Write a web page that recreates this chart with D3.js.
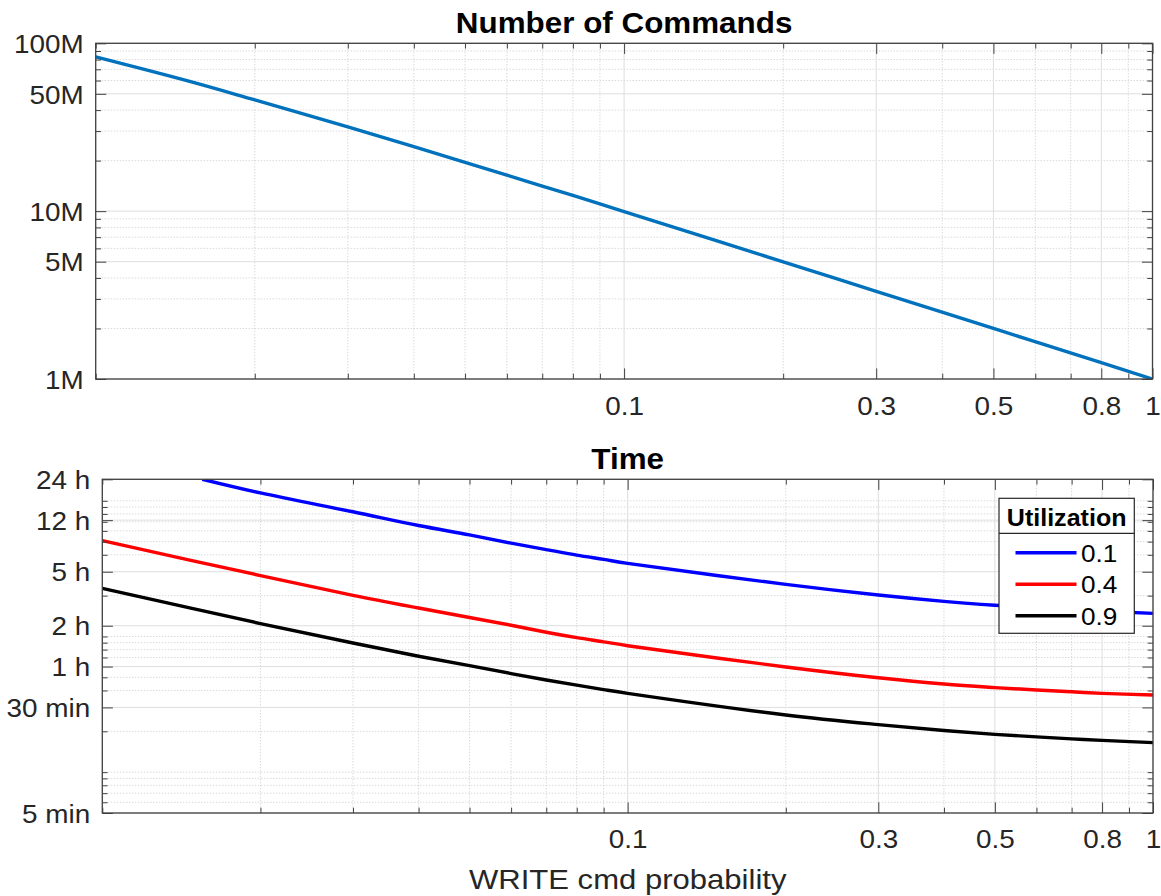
<!DOCTYPE html>
<html><head><meta charset="utf-8">
<script src="https://cdn.jsdelivr.net/npm/d3@7"></script>
<style>
body{margin:0;background:#fff}
svg{display:block}
text{font-family:"Liberation Sans",Arial,Helvetica,sans-serif}
</style>
</head><body>
<svg id="c" width="1161" height="896"></svg>
<script>
// ---------- data ----------
const xTickValues = [0.1, 0.3, 0.5, 0.8, 1];
const xTickLabels = ["0.1", "0.3", "0.5", "0.8", "1"];

const cmdProb  = [0.01, 0.015, 0.02, 0.03, 0.04, 0.05, 0.06, 0.07, 0.08, 0.09, 0.1, 0.2, 0.3, 0.5, 0.8, 1];
const cmdCount = [83e6, 59.5e6, 46e6, 31.8e6, 24.2e6, 19.55e6, 16.4e6, 14.1e6, 12.4e6, 11.05e6, 9.95e6, 4.99e6, 3.33e6, 2e6, 1.25e6, 1e6];
const cmdYTicks  = [1e6, 5e6, 1e7, 5e7, 1e8];
const cmdYLabels = ["1M", "5M", "10M", "50M", "100M"];

const utilLabels = ["0.1", "0.4", "0.9"];
const probU01 = [0.0155, 0.02, 0.03, 0.04, 0.05, 0.06, 0.07, 0.08, 0.09, 0.1, 0.2, 0.3, 0.4, 0.5, 0.6, 0.8, 1];
const timeU01 = [1440, 1142, 830, 657, 560, 487, 437, 398, 370, 346, 242, 202, 181.5, 170, 163, 154, 148];
const probU04 = [0.01, 0.02, 0.03, 0.04, 0.05, 0.06, 0.07, 0.08, 0.09, 0.1, 0.2, 0.3, 0.4, 0.5, 0.6, 0.7, 0.8, 1];
const timeU04 = [508, 281, 201, 162, 138, 121, 107.5, 98, 91.3, 85.5, 59.6, 49.6, 44.6, 42, 40.3, 39.1, 38.1, 37];
const probU09 = [0.01, 0.02, 0.03, 0.04, 0.05, 0.06, 0.07, 0.08, 0.09, 0.1, 0.2, 0.3, 0.4, 0.5, 0.6, 0.7, 0.8, 1];
const timeU09 = [226, 124.5, 89.5, 71.5, 61, 53.3, 47.8, 43.8, 40.6, 38.1, 26.4, 22.4, 20.3, 19.0, 18.2, 17.6, 17.15, 16.5];
const timeYTicks  = [5, 30, 60, 120, 300, 720, 1440];   // minutes
const timeYLabels = ["5 min", "30 min", "1 h", "2 h", "5 h", "12 h", "24 h"];
const seriesColors = ["#0000ff", "#ff0000", "#000000"];

// ---------- drawing ----------
const SX = 1.09;           // horizontal stretch of the original rendering
const TXT = "#262626";
const svg = d3.select("#c");
svg.append("rect").attr("width", 1161).attr("height", 896).attr("fill", "#fff");

function same(a, b) { return Math.abs(Math.log10(a) - Math.log10(b)) < 1e-6; }

function panel(o) {
  const x = d3.scaleLog().domain([0.01, 1]).range([0, o.width]);
  const y = d3.scaleLog().domain(o.yDomain).range([o.height, 0]);
  const g = svg.append("g").attr("transform", `translate(${o.left},${o.top})`);

  const xMinor = x.ticks().filter(v => !xTickValues.some(t => same(t, v)));
  const yMinor = y.ticks().filter(v => !o.yTicks.some(t => same(t, v)));

  // minor grid (dotted)
  const mg = g.append("g").attr("stroke", "#c9c9c9").attr("stroke-width", 1).attr("stroke-dasharray", "1,2");
  mg.selectAll(".vx").data(xMinor).join("line")
    .attr("x1", d => x(d)).attr("x2", d => x(d)).attr("y1", 0).attr("y2", o.height);
  mg.selectAll(".hy").data(yMinor).join("line")
    .attr("y1", d => y(d)).attr("y2", d => y(d)).attr("x1", 0).attr("x2", o.width);
  // major grid (solid)
  const Mg = g.append("g").attr("stroke", "#dedede").attr("stroke-width", 1);
  Mg.selectAll(".vx").data(xTickValues).join("line")
    .attr("x1", d => x(d)).attr("x2", d => x(d)).attr("y1", 0).attr("y2", o.height);
  Mg.selectAll(".hy").data(o.yTicks).join("line")
    .attr("y1", d => y(d)).attr("y2", d => y(d)).attr("x1", 0).attr("x2", o.width);

  // data lines
  const clipId = "clip" + o.id;
  g.append("clipPath").attr("id", clipId).append("rect").attr("width", o.width).attr("height", o.height);
  const line = d3.line().x(d => x(d[0])).y(d => y(d[1])).curve(d3.curveCatmullRom.alpha(0.5));
  const lg = g.append("g").attr("clip-path", `url(#${clipId})`);
  o.series.forEach(s => {
    lg.append("path").datum(d3.zip(s.p, s.v))
      .attr("fill", "none").attr("stroke", s.color).attr("stroke-width", 3.4)
      .attr("stroke-linejoin", "round").attr("d", line);
  });

  // ticks (inward, mirrored)
  const MAJ = 10.6, MIN = 5.3;
  const styleAxis = sel => { sel.select(".domain").remove(); sel.selectAll("line").attr("stroke", "#404040"); };
  g.append("g").attr("transform", `translate(0,${o.height})`)
    .call(d3.axisBottom(x).tickValues(xMinor).tickSize(-MIN).tickFormat("")).call(styleAxis);
  g.append("g")
    .call(d3.axisTop(x).tickValues(xMinor).tickSize(-MIN).tickFormat("")).call(styleAxis);
  g.append("g").call(d3.axisLeft(y).tickValues(yMinor).tickSize(-MIN).tickFormat("")).call(styleAxis);
  g.append("g").attr("transform", `translate(${o.width},0)`)
    .call(d3.axisRight(y).tickValues(yMinor).tickSize(-MIN).tickFormat("")).call(styleAxis);

  g.append("g").call(d3.axisTop(x).tickValues(xTickValues).tickSize(-MAJ).tickFormat("")).call(styleAxis);
  g.append("g").attr("transform", `translate(${o.width},0)`)
    .call(d3.axisRight(y).tickValues(o.yTicks).tickSize(-MAJ).tickFormat("")).call(styleAxis);

  const xb = g.append("g").attr("transform", `translate(0,${o.height})`)
    .call(d3.axisBottom(x).tickValues(xTickValues).tickSize(-MAJ).tickPadding(o.xPad)
      .tickFormat((d, i) => xTickLabels[i]))
    .call(styleAxis);
  xb.selectAll("text").attr("fill", TXT).attr("font-size", 25.6)
    .attr("font-family", '"Liberation Sans",Arial,sans-serif').attr("transform", `scale(${SX},1)`);
  xb.attr("font-family", null).attr("font-size", null);

  const yl = g.append("g")
    .call(d3.axisLeft(y).tickValues(o.yTicks).tickSize(-MAJ).tickPadding(12)
      .tickFormat((d, i) => o.yLabels[i]))
    .call(styleAxis);
  yl.selectAll("text").attr("fill", TXT).attr("font-size", 25.6)
    .attr("font-family", '"Liberation Sans",Arial,sans-serif')
    .attr("x", -12 / SX).attr("dy", "0.36em").attr("transform", `scale(${SX},1)`);
  yl.attr("font-family", null).attr("font-size", null);

  // box
  g.append("rect").attr("width", o.width).attr("height", o.height)
    .attr("fill", "none").attr("stroke", "#404040").attr("stroke-width", 1.3);

  // title
  g.append("text").attr("transform", `translate(${o.width / 2},${o.titleY}) scale(${SX},1)`)
    .attr("text-anchor", "middle").attr("font-weight", "bold").attr("font-size", 28.8)
    .attr("fill", "#000").text(o.title);

  return { g, x, y };
}

panel({
  id: "top", left: 95.7, top: 43.3, width: 1056.8, height: 335.7,
  yDomain: [1e6, 1e8], yTicks: cmdYTicks, yLabels: cmdYLabels,
  title: "Number of Commands", titleY: -10, xPad: 18,
  series: [{ p: cmdProb, v: cmdCount, color: "#0072bd" }]
});

panel({
  id: "bot", left: 102.3, top: 479.3, width: 1050.7, height: 333.7,
  yDomain: [5, 1440], yTicks: timeYTicks, yLabels: timeYLabels,
  title: "Time", titleY: -10, xPad: 17,
  series: [
    { p: probU01, v: timeU01, color: seriesColors[0] },
    { p: probU04, v: timeU04, color: seriesColors[1] },
    { p: probU09, v: timeU09, color: seriesColors[2] }
  ]
});

// x label
svg.append("text").attr("transform", `translate(627.7,889) scale(${SX},1)`)
  .attr("text-anchor", "middle").attr("font-size", 28.5).attr("fill", TXT)
  .text("WRITE cmd probability");

// legend
const L = { x: 999, y: 498.3, w: 135.3, h: 135, sep: 35 };
const lg = svg.append("g").attr("transform", `translate(${L.x},${L.y})`);
lg.append("rect").attr("width", L.w).attr("height", L.h).attr("fill", "#fff")
  .attr("stroke", "#262626").attr("stroke-width", 1.2);
lg.append("line").attr("x1", 0).attr("x2", L.w).attr("y1", L.sep).attr("y2", L.sep)
  .attr("stroke", "#262626").attr("stroke-width", 1.2);
lg.append("text").attr("transform", `translate(${L.w / 2},${L.sep - 7.5}) scale(${SX},1)`)
  .attr("text-anchor", "middle").attr("font-weight", "bold").attr("font-size", 23)
  .attr("fill", "#000").text("Utilization");
const rows = lg.selectAll(".row").data(utilLabels).join("g")
  .attr("transform", (d, i) => `translate(0,${54.4 + i * 31.5})`);
rows.append("line").attr("x1", 16.5).attr("x2", 77.5).attr("y1", 0).attr("y2", 0)
  .attr("stroke", (d, i) => seriesColors[i]).attr("stroke-width", 3.4);
rows.append("text").attr("transform", `translate(82,9) scale(${SX},1)`)
  .attr("font-size", 24).attr("fill", "#000").text(d => d);
</script>
</body></html>
